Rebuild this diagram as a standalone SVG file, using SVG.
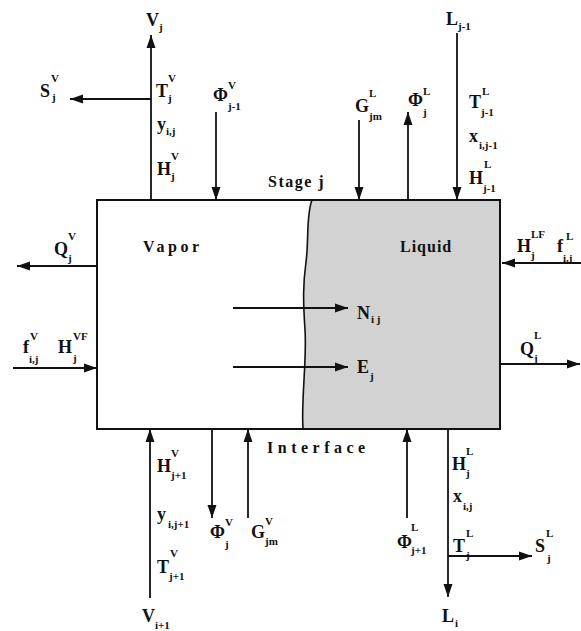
<svg xmlns="http://www.w3.org/2000/svg" width="581" height="631" viewBox="0 0 581 631">
<style>
text{font-family:"Liberation Serif","Times New Roman",serif;font-weight:bold;fill:#111}
.m{font-size:18px}
.s{font-size:11px}
.t{font-size:16px}
.c line{stroke:#111;stroke-width:1.8;marker-end:url(#ah)}
</style>
<defs>
<marker id="ah" markerUnits="userSpaceOnUse" markerWidth="14" markerHeight="10" refX="13" refY="5" orient="auto">
<path d="M0,0.5 L13,5 L0,9.5 Z" fill="#111"/>
</marker>
</defs>
<rect width="581" height="631" fill="#fff"/>
<g id="stage">
<path d="M312,200 C306,215 309,240 306,262 S303,300 305,330 S301,400 303,429 L500,429 L500,200 Z" fill="#d2d2d2"/>
<rect x="97" y="200" width="403" height="229" fill="none" stroke="#111" stroke-width="2"/>
<path d="M312,200 C306,215 309,240 306,262 S303,300 305,330 S301,400 303,429" fill="none" stroke="#111" stroke-width="1.6"/>
<text class="t" x="143" y="252" letter-spacing="3.5">Vapor</text>
<text class="t" x="400" y="252" letter-spacing="1">Liquid</text>
<text class="t" x="268" y="187" letter-spacing="1.5">Stage  j</text>
<text class="t" x="267" y="453" letter-spacing="4.5">Interface</text>
</g>
<g class="c" id="connectors">
<line x1="151" y1="200" x2="151" y2="35"/>
<line x1="151" y1="99" x2="70" y2="99"/>
<line x1="216" y1="112" x2="216" y2="200"/>
<line x1="359" y1="120" x2="359" y2="200"/>
<line x1="408" y1="200" x2="408" y2="112"/>
<line x1="457" y1="33" x2="457" y2="200"/>
<line x1="581" y1="263" x2="502" y2="263"/>
<line x1="500" y1="364" x2="580" y2="364"/>
<line x1="233" y1="308" x2="348" y2="308"/>
<line x1="233" y1="367" x2="348" y2="367"/>
<line x1="97" y1="266" x2="17" y2="266"/>
<line x1="13" y1="368" x2="97" y2="368"/>
<line x1="150" y1="598" x2="150" y2="429"/>
<line x1="212" y1="429" x2="212" y2="518"/>
<line x1="248" y1="518" x2="248" y2="429"/>
<line x1="407" y1="518" x2="407" y2="429"/>
<line x1="448" y1="429" x2="448" y2="597"/>
<line x1="448" y1="556" x2="532" y2="556"/>
</g>
<g id="top-left-labels">
<text class="m" x="146" y="26">V</text><text class="s" x="159" y="31">j</text>
<text class="m" x="40" y="97">S</text><text class="s" x="51" y="82">V</text><text class="s" x="52" y="101">j</text>
<text class="m" x="156" y="97">T</text><text class="s" x="168" y="82">V</text><text class="s" x="168" y="102">j</text>
<text class="m" x="157" y="130">y</text><text class="s" x="166" y="135">i,j</text>
<text class="m" x="157" y="175">H</text><text class="s" x="171" y="160">V</text><text class="s" x="171" y="180">j</text>
<text class="m" x="213" y="101">Φ</text><text class="s" x="228" y="89">V</text><text class="s" x="228" y="110">j-1</text>
</g>
<g id="top-right-labels">
<text class="m" x="355" y="112">G</text><text class="s" x="369" y="97">L</text><text class="s" x="369" y="120">jm</text>
<text class="m" x="408" y="106">Φ</text><text class="s" x="423" y="95">L</text><text class="s" x="423" y="116">j</text>
<text class="m" x="446" y="25">L</text><text class="s" x="458" y="30">j-1</text>
<text class="m" x="469" y="108">T</text><text class="s" x="482" y="95">L</text><text class="s" x="481" y="116">j-1</text>
<text class="m" x="469" y="142">x</text><text class="s" x="479" y="149">i,j-1</text>
<text class="m" x="469" y="184">H</text><text class="s" x="484" y="168">L</text><text class="s" x="483" y="192">j-1</text>
</g>
<g id="right-labels">
<text class="m" x="517" y="252">H</text><text class="s" x="531" y="238">LF</text><text class="s" x="531" y="259">j</text>
<text class="m" x="557" y="252">f</text><text class="s" x="566" y="240">L</text><text class="s" x="563" y="262">i,j</text>
<text class="m" x="520" y="355">Q</text><text class="s" x="534" y="339">L</text><text class="s" x="534" y="362">j</text>
<text class="m" x="357" y="319">N</text><text class="s" x="371" y="323">i j</text>
<text class="m" x="357" y="373">E</text><text class="s" x="370" y="380">j</text>
</g>
<g id="left-labels">
<text class="m" x="54" y="255">Q</text><text class="s" x="68" y="240">V</text><text class="s" x="68" y="262">j</text>
<text class="m" x="23" y="353">f</text><text class="s" x="30" y="340">V</text><text class="s" x="29" y="363">i,j</text>
<text class="m" x="58" y="353">H</text><text class="s" x="73" y="340">VF</text><text class="s" x="73" y="362">j</text>
</g>
<g id="bottom-left-labels">
<text class="m" x="157" y="472">H</text><text class="s" x="171" y="457">V</text><text class="s" x="171" y="479">j+1</text>
<text class="m" x="157" y="520">y</text><text class="s" x="168" y="528">i,j+1</text>
<text class="m" x="157" y="573">T</text><text class="s" x="170" y="557">V</text><text class="s" x="169" y="580">j+1</text>
<text class="m" x="142" y="622">V</text><text class="s" x="155" y="629">i+1</text>
<text class="m" x="210" y="538">Φ</text><text class="s" x="225" y="526">V</text><text class="s" x="225" y="548">j</text>
<text class="m" x="251" y="538">G</text><text class="s" x="265" y="525">V</text><text class="s" x="265" y="545">jm</text>
</g>
<g id="bottom-right-labels">
<text class="m" x="397" y="548">Φ</text><text class="s" x="411" y="531">L</text><text class="s" x="411" y="554">j+1</text>
<text class="m" x="452" y="470">H</text><text class="s" x="466" y="455">L</text><text class="s" x="466" y="477">j</text>
<text class="m" x="453" y="502">x</text><text class="s" x="463" y="510">i,j</text>
<text class="m" x="453" y="552">T</text><text class="s" x="466" y="537">L</text><text class="s" x="466" y="559">j</text>
<text class="m" x="535" y="552">S</text><text class="s" x="546" y="537">L</text><text class="s" x="547" y="562">j</text>
<text class="m" x="442" y="622">L</text><text class="s" x="455" y="627">i</text>
</g>
</svg>
